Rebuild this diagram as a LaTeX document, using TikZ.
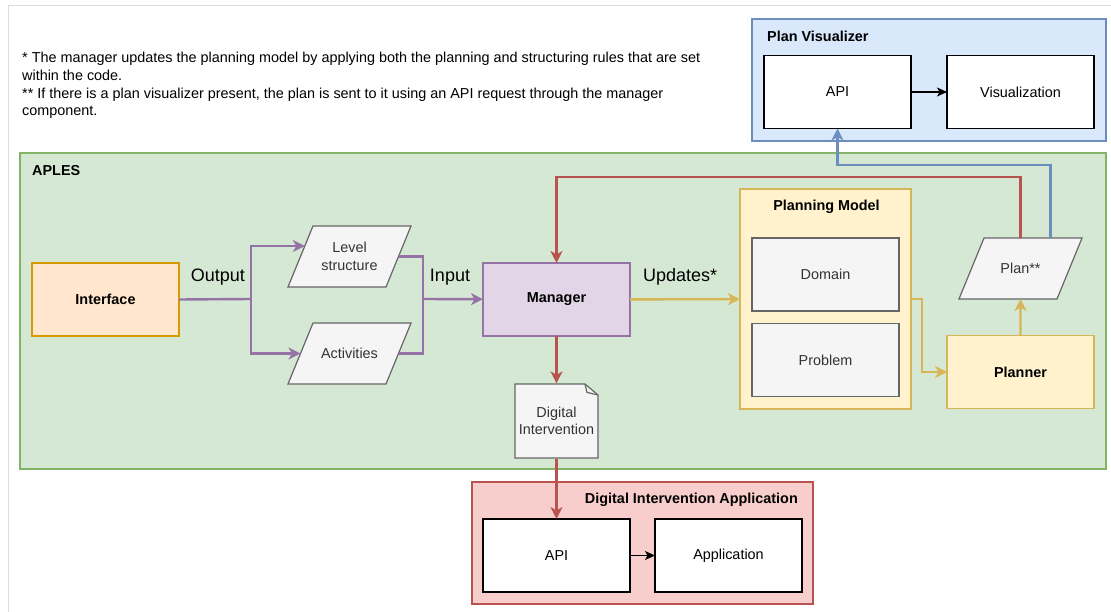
\documentclass[tikz,border=0pt]{standalone}
\usepackage{fontspec}
\setmainfont{Liberation Sans}
\usepackage{xcolor}
\usepackage{tikz}
\usetikzlibrary{arrows.meta, positioning, shapes.geometric, calc}

\definecolor{greenfill}{HTML}{D5E8D4}
\definecolor{greendraw}{HTML}{82B366}
\definecolor{bluefill}{HTML}{DAE8FC}
\definecolor{bluedraw}{HTML}{6C8EBF}
\definecolor{redfill}{HTML}{F8CECC}
\definecolor{reddraw}{HTML}{B85450}
\definecolor{yellowfill}{HTML}{FFF2CC}
\definecolor{yellowdraw}{HTML}{D6B656}
\definecolor{orangefill}{HTML}{FFE6CC}
\definecolor{orangedraw}{HTML}{D79B00}
\definecolor{purplefill}{HTML}{E1D5E7}
\definecolor{purpledraw}{HTML}{9673A6}
\definecolor{grayfill}{HTML}{F5F5F5}
\definecolor{graydraw}{HTML}{666666}
\definecolor{graytext}{HTML}{333333}
\definecolor{pageline}{HTML}{DADCE0}

% text block of a data (parallelogram) node
\newcommand{\paratext}[1]{\parbox[c][61pt][c]{73pt}{\centering #1}}

\begin{document}
\begin{tikzpicture}[
    x=1pt, y=-1pt,
    font=\fontsize{14.4}{17.7}\selectfont,
    container/.style={rectangle, draw, line width=1.2pt, inner sep=0pt, outer sep=0pt},
    box/.style={rectangle, draw, line width=1.2pt, align=center, inner sep=0pt, outer sep=0pt, minimum width=147pt, minimum height=73pt},
    whitebox/.style={box, fill=white, draw=black},
    graybox/.style={box, fill=grayfill, draw=graydraw, text=graytext},
    para/.style={trapezium, trapezium left angle=67.7, trapezium right angle=112.3, draw=graydraw, fill=grayfill, text=graytext, line width=1.2pt, inner sep=0pt, outer sep=0pt},
    notebox/.style={rectangle, inner sep=0pt, outer sep=0pt, minimum width=84.2pt, minimum height=75.2pt, align=center, text=graytext,
        path picture={
            \filldraw[draw=graydraw, fill=grayfill, line width=1.2pt]
                ([shift={(0.6pt,0.6pt)}]path picture bounding box.south west)
                -- ([shift={(0.6pt,-0.6pt)}]path picture bounding box.north west)
                -- ([shift={(-13.6pt,-0.6pt)}]path picture bounding box.north east)
                -- ([shift={(-0.6pt,-11.6pt)}]path picture bounding box.north east)
                -- ([shift={(-0.6pt,0.6pt)}]path picture bounding box.south east) -- cycle;
            \draw[draw=graydraw, line width=1.2pt]
                ([shift={(-13.6pt,-0.6pt)}]path picture bounding box.north east)
                -- ([shift={(-11.6pt,-9pt)}]path picture bounding box.north east)
                -- ([shift={(-0.6pt,-11.6pt)}]path picture bounding box.north east);
        }},
    heading/.style={font=\fontsize{14.4}{17.7}\selectfont\bfseries, inner sep=0pt},
    biglabel/.style={font=\fontsize{18}{21.6}\selectfont, text=black, inner sep=0pt},
    wire/.style={line width=2.4pt},
    conn/.style={wire, -{Stealth[length=12pt, width=12pt, inset=3.5pt]}},
    link/.style={line width=1.2pt, -{Stealth[length=10pt, width=9pt, inset=2.5pt]}}
]
\useasboundingbox (0,0) rectangle (1111,612);
\draw[pageline, line width=1pt] (8,612) -- (8,6) -- (1111,6);

\node[anchor=west, align=left, inner sep=0pt] (footnotes) at (22,85.5)
    {* The manager updates the planning model by applying both the planning and structuring rules that are set\\
     within the code.\\
     ** If there is a plan visualizer present, the plan is sent to it using an API request through the manager\\
     component.};

\node[container, fill=bluefill, draw=bluedraw, minimum width=354pt, minimum height=122pt] (planvis) at (929,80) {};
\node[heading, anchor=west] (planvistitle) at (767,36) {Plan Visualizer};
\node[whitebox] (pvapi) at (837.5,92) {API};
\node[whitebox, right=36pt of pvapi] (pvvis) {Visualization};

\node[container, fill=greenfill, draw=greendraw, minimum width=1086pt, minimum height=316pt] (aples) at (563,311) {};
\node[heading, anchor=west] (aplestitle) at (32,170.5) {APLES};

\node[container, fill=redfill, draw=reddraw, minimum width=341pt, minimum height=122pt] (diapp) at (642.5,543) {};
\node[heading, anchor=east] (diapptitle) at (798,500) {Digital Intervention Application};
\node[whitebox] (diapi) at (556.5,555.5) {API};
\node[whitebox, right=25pt of diapi] (diappl) {Application};

\node[box, fill=orangefill, draw=orangedraw, font=\fontsize{14.4}{17.7}\selectfont\bfseries] (interface) at (105.5,299.5) {Interface};
\node[para] (levelstr) at (349.5,256.5) {\paratext{Level\\structure}};
\node[para] (activities) at (349.5,353.5) {\paratext{Activities}};
\node[box, fill=purplefill, draw=purpledraw, font=\fontsize{14.4}{17.7}\selectfont\bfseries] (manager) at (556.5,299.5) {Manager};
\node[notebox] (dignote) at (556.5,421) {Digital\\Intervention};

\node[container, fill=yellowfill, draw=yellowdraw, minimum width=171pt, minimum height=220pt] (planmodel) at (825.5,299) {};
\node[heading] (planmodeltitle) at (826.5,207) {Planning Model};
\node[graybox] (domain) at (825.5,274.5) {Domain};
\node[graybox] (problem) at (825.5,360) {Problem};

\node[box, fill=yellowfill, draw=yellowdraw, font=\fontsize{14.4}{17.7}\selectfont\bfseries] (planner) at (1020.5,372) {Planner};
\node[para] (plan) at (1020.5,268.5) {\paratext{Plan**}};

\coordinate (split) at (251,299);
\coordinate (merge) at (423,299);

\draw[wire, purpledraw] (interface.east) -- node[biglabel, pos=0.54, yshift=22pt] (outlbl) {Output} (split);
\draw[conn, purpledraw] (split) |- ($(levelstr.bottom left corner)!0.672!(levelstr.top left corner)$);
\draw[conn, purpledraw] (split) |- (activities);
\draw[wire, purpledraw] (levelstr.east) -| (merge);
\draw[wire, purpledraw] (activities.east) -| (merge);
\draw[conn, purpledraw] (merge) -- node[biglabel, pos=0.45, yshift=22pt] (inlbl) {Input} (manager);

\draw[conn, yellowdraw] (manager) -- node[biglabel, pos=0.455, yshift=22pt] (updlbl) {Updates*} (planmodel);
\draw[conn, yellowdraw] (planmodel.east) -- ++(11,0) |- (planner.west);
\draw[conn, yellowdraw] (planner) -- (plan);

\draw[conn, reddraw] (manager) -- (dignote);
\draw[conn, reddraw] (dignote) -- (diapi);
\draw[conn, reddraw] (plan.north) -- ++(0,-61) -| (manager.north);
\draw[conn, bluedraw] ([xshift=30pt]plan.north) -- ++(0,-73) -| (pvapi.south);

\draw[link] (pvapi) -- (pvvis);
\draw[link] (diapi) -- (diappl);

\end{tikzpicture}
\end{document}
